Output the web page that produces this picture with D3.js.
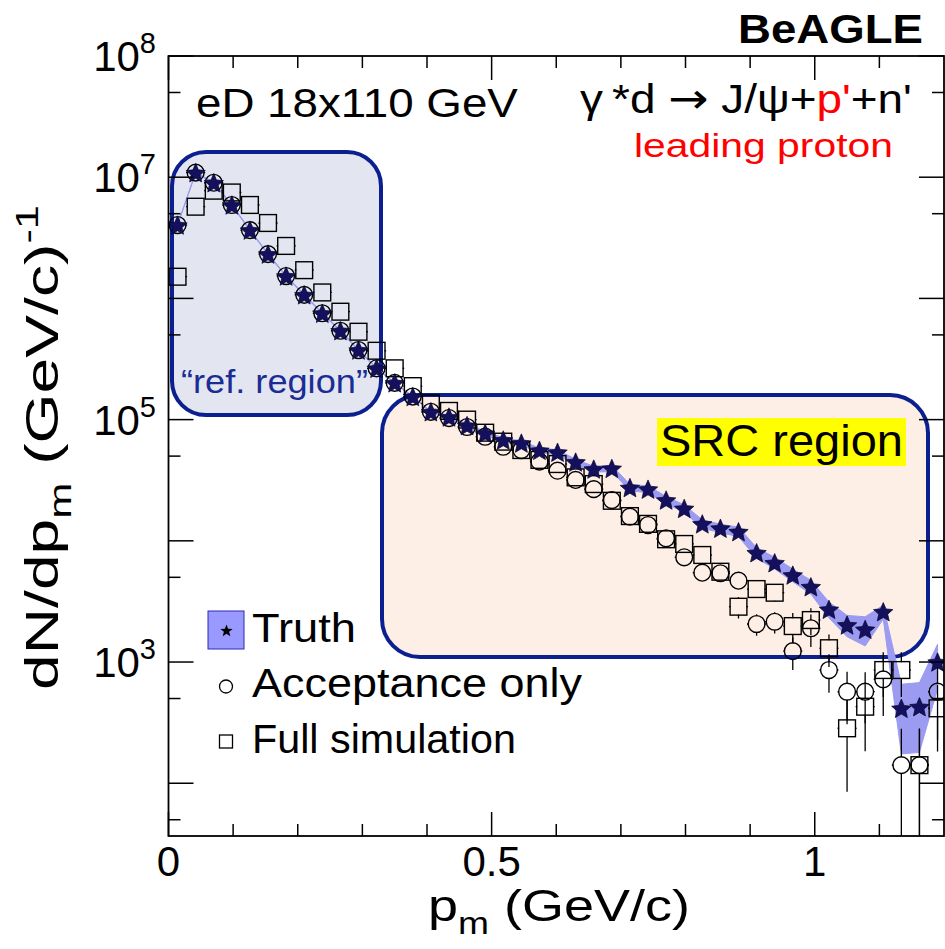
<!DOCTYPE html>
<html><head><meta charset="utf-8">
<script src="https://cdn.jsdelivr.net/npm/d3@7/dist/d3.min.js"></script>
<style>body{margin:0;background:#fff}text{font-family:"Liberation Sans",Arial,Helvetica,sans-serif}</style>
</head><body>
<svg id="c" width="945" height="949"></svg>
<script>
// ---------------- data ----------------
const binCenters = [0.014,0.042,0.070,0.098,0.126,0.154,0.182,0.210,0.238,0.266,0.294,0.322,0.350,0.378,0.406,0.434,0.462,0.490,0.518,0.546,0.574,0.602,0.630,0.658,0.686,0.714,0.742,0.770,0.798,0.826,0.854,0.882,0.910,0.938,0.966,0.994,1.022,1.050,1.078,1.106,1.134,1.162,1.190];
const truthVals = [4.03e6,1.09e7,9.0e6,5.90e6,3.66e6,2.32e6,1.53e6,1.07e6,7.54e5,5.41e5,3.75e5,2.65e5,2.01e5,1.55e5,1.16e5,
  1.05e5,8.93e4,7.71e4,6.79e4,6.41e4,5.58e4,5.38e4,4.47e4,3.91e4,3.96e4,2.75e4,2.67e4,2.17e4,1.85e4,1.38e4,1.27e4,1.19e4,
  7.98e3,6.59e3,5.22e3,4.18e3,2.72e3,2.02e3,1.86e3,2.60e3,415,428,1.00e3];
const truthRelErr = [0.01,0.01,0.01,0.01,0.01,0.01,0.01,0.01,0.01,0.01,0.01,0.01,0.01,0.01,0.01,
  0.03,0.03,0.035,0.04,0.04,0.045,0.05,0.05,0.055,0.06,0.06,0.065,0.07,0.07,0.08,0.08,
  0.09,0.1,0.11,0.12,0.13,0.15,0.2,0.27,0.13,0.58,0.58,0.4];
const acceptVals = [4.03e6,1.09e7,9.0e6,5.90e6,3.66e6,2.32e6,1.53e6,1.07e6,7.54e5,5.41e5,3.75e5,2.65e5,2.01e5,1.55e5,1.16e5,
  1.03e5,8.69e4,7.23e4,5.97e4,5.61e4,4.50e4,3.79e4,3.18e4,2.67e4,2.17e4,1.58e4,1.35e4,1.05e4,7.31e3,5.46e3,5.40e3,4.69e3,
  2.06e3,2.15e3,1.23e3,1.90e3,859,569,569,719,141,141,569];
const acceptRelErr = [0.003,0.003,0.003,0.003,0.003,0.003,0.003,0.003,0.003,0.003,0.005,0.005,0.005,0.005,0.005,0.005,
  0.01,0.01,0.01,0.01,0.01,0.01,0.02,0.02,0.025,0.03,0.035,0.04,
  0.06,0.08,0.08,0.1,0.2,0.2,0.3,0.3,0.35,0.46,0.45,0.5,1.0,1.0,0.6];
const fullVals = [1.51e6,5.71e6,7.74e6,7.48e6,5.90e6,4.19e6,2.71e6,1.71e6,1.12e6,7.77e5,
  5.31e5,3.70e5,2.65e5,1.89e5,1.36e5,1.18e5,1.00e5,7.80e4,6.58e4,5.61e4,
  4.65e4,4.30e4,3.34e4,2.94e4,2.14e4,1.60e4,1.38e4,1.03e4,9.42e3,7.64e3,
  5.56e3,2.86e3,4.00e3,3.73e3,1.98e3,2.22e3,1.30e3,284,428,859,859,141,415];
const fullRelErr = [0.003,0.003,0.003,0.003,0.003,0.003,0.003,0.003,0.003,0.003,0.005,0.005,0.005,0.005,0.005,0.005,
  0.01,0.01,0.01,0.01,0.01,0.01,0.02,0.02,0.025,0.03,0.035,0.04,
  0.07,0.08,0.1,0.2,0.15,0.15,0.28,0.25,0.3,0.7,0.57,0.4,0.4,1.0,0.56];
const xMajorTicks = [0,0.5,1];
const xMinorTicks = [0.1,0.2,0.3,0.4,0.6,0.7,0.8,0.9,1.1];
const yMajorTicks = [1e2,1e3,1e4,1e5,1e6,1e7,1e8];
const yMinorTicks = [50,5e2,5e3,5e4,5e5,5e6,5e7];
const yLabelExp = [3,5,7,8];
const xLabels = [{v:0,t:"0"},{v:0.5,t:"0.5"},{v:1,t:"1"}];
const legendNames = ["Truth","Acceptance only","Full simulation"];

// ---------------- layout ----------------
const svg = d3.select("#c");
const L=168.5, R=944, T=56, B=836;
const x = d3.scaleLinear().domain([0,1.2]).range([L,R]);
const y = d3.scaleLog().domain([36.7,1e8]).range([B,T]);
const NAVY="#0b1f8f";
const MS = 8.4; // marker half size

// region boxes
svg.append("rect").attr("x",172).attr("y",152).attr("width",209).attr("height",263)
  .attr("rx",34).attr("fill","#e3e5f1").attr("stroke",NAVY).attr("stroke-width",4);
svg.append("rect").attr("x",382).attr("y",395).attr("width",546).attr("height",262)
  .attr("rx",38).attr("fill","#fdeee6").attr("stroke",NAVY).attr("stroke-width",4);

// clip
svg.append("clipPath").attr("id","clip").append("rect").attr("x",L).attr("y",T).attr("width",R-L).attr("height",B-T);
const plot = svg.append("g").attr("clip-path","url(#clip)");

// truth band
const bandData = binCenters.map((c,i)=>({c, v:truthVals[i], r:truthRelErr[i]}));
plot.append("path").datum(bandData)
  .attr("d", d3.area().x(d=>x(d.c)).y0(d=>y(d.v*(1-d.r))).y1(d=>y(d.v*(1+d.r))))
  .attr("fill","#9b9bf2").attr("stroke","#9b9bf2").attr("stroke-width",1);

// error bars helper
function errBars(vals, errs, half){
  const g = plot.append("g").attr("stroke","#000").attr("stroke-width",1.3);
  vals.forEach((v,i)=>{
    const cx = x(binCenters[i]), cy = y(v);
    const yh = y(v*(1+errs[i]));
    const yl = (1-errs[i])>0.001 ? y(v*(1-errs[i])) : B+5;
    if (cy-half > yh) g.append("line").attr("x1",cx).attr("x2",cx).attr("y1",yh).attr("y2",cy-half);
    if (yl > cy+half) g.append("line").attr("x1",cx).attr("x2",cx).attr("y1",cy+half).attr("y2",yl);
    const hw = x(binCenters[i]+0.014)-cx;
    g.append("line").attr("x1",cx-hw-0.5).attr("x2",cx-half).attr("y1",cy).attr("y2",cy);
    g.append("line").attr("x1",cx+half).attr("x2",cx+hw+0.5).attr("y1",cy).attr("y2",cy);
  });
}
errBars(acceptVals, acceptRelErr, MS-0.5);
errBars(fullVals, fullRelErr, MS-0.5);

// circles (acceptance)
plot.append("g").selectAll("circle").data(acceptVals).join("circle")
  .attr("cx",(d,i)=>x(binCenters[i])).attr("cy",d=>y(d)).attr("r",MS)
  .attr("fill","none").attr("stroke","#000").attr("stroke-width",1.4);
// squares (full simulation)
plot.append("g").selectAll("rect").data(fullVals).join("rect")
  .attr("x",(d,i)=>x(binCenters[i])-MS).attr("y",d=>y(d)-MS).attr("width",2*MS).attr("height",2*MS)
  .attr("fill","none").attr("stroke","#000").attr("stroke-width",1.4);
// stars (truth)
function starPath(R0, ratio){
  const pts=[]; const r0=R0*ratio;
  for(let k=0;k<10;k++){const a=-Math.PI/2+k*Math.PI/5; const rr=k%2?r0:R0; pts.push([rr*Math.cos(a), rr*Math.sin(a)]);}
  return "M"+pts.map(p=>p[0].toFixed(2)+","+p[1].toFixed(2)).join("L")+"Z";
}
plot.append("g").selectAll("path").data(truthVals).join("path")
  .attr("transform",(d,i)=>`translate(${x(binCenters[i])},${y(d)+1})`)
  .attr("d",starPath(10.2,0.46)).attr("fill","#14105e").attr("stroke","#05052a").attr("stroke-width",0.7);

// frame and ticks
const ax = svg.append("g").attr("stroke","#000").attr("stroke-width",1.5);
ax.append("rect").attr("x",L).attr("y",T).attr("width",R-L).attr("height",B-T).attr("fill","none").attr("stroke-width",1.8);
xMajorTicks.forEach(v=>{ax.append("line").attr("x1",x(v)).attr("x2",x(v)).attr("y1",B).attr("y2",B-24);
  ax.append("line").attr("x1",x(v)).attr("x2",x(v)).attr("y1",T).attr("y2",T+24);});
xMinorTicks.forEach(v=>{ax.append("line").attr("x1",x(v)).attr("x2",x(v)).attr("y1",B).attr("y2",B-12);
  ax.append("line").attr("x1",x(v)).attr("x2",x(v)).attr("y1",T).attr("y2",T+12);});
yMajorTicks.forEach(v=>{ax.append("line").attr("x1",L).attr("x2",L+25).attr("y1",y(v)).attr("y2",y(v));
  ax.append("line").attr("x1",R).attr("x2",R-25).attr("y1",y(v)).attr("y2",y(v));});
yMinorTicks.forEach(v=>{ax.append("line").attr("x1",L).attr("x2",L+12).attr("y1",y(v)).attr("y2",y(v));
  ax.append("line").attr("x1",R).attr("x2",R-12).attr("y1",y(v)).attr("y2",y(v));});

// tick labels
xLabels.forEach(d=>{svg.append("text").attr("x",x(d.v)).attr("y",876).attr("text-anchor","middle")
  .attr("font-size",42).text(d.t);});
yLabelExp.forEach(e=>{
  const t = svg.append("text").attr("x",156).attr("y",y(Math.pow(10,e))+15).attr("text-anchor","end").attr("font-size",42);
  t.append("tspan").text("10");
  t.append("tspan").attr("font-size",29).attr("dy",-18).text(e);
});

// generic fitted text: left edge x0, right edge x1, baseline yb
function fittedText(x0, x1, yb, size, build, opts={}){
  const g = svg.append("g");
  const t = g.append("text").attr("font-size",size);
  if(opts.bold) t.attr("font-weight","bold");
  if(opts.fill) t.attr("fill",opts.fill);
  build(t);
  const s = (x1-x0)/t.node().getComputedTextLength();
  g.attr("transform",`translate(${x0},${yb}) scale(${s},1)`);
  return g;
}

// axis titles
fittedText(428,690,921,45,t=>{t.append("tspan").text("p");
  t.append("tspan").attr("font-size",31).attr("dy",13).text("m");
  t.append("tspan").attr("dy",-13).text(" (GeV/c)");});
{
  const g = svg.append("g");
  const t = g.append("text").attr("font-size",46);
  t.append("tspan").text("dN/dp");
  t.append("tspan").attr("font-size",31).attr("dy",13).text("m");
  t.append("tspan").attr("dy",-13).text(" (GeV/c)");
  t.append("tspan").attr("font-size",31).attr("dy",-20).text("-1");
  const s = (690-205)/t.node().getComputedTextLength();
  g.attr("transform",`translate(58,690) rotate(-90) scale(${s},1)`);
}

// headers
fittedText(738,923,43,40,t=>t.text("BeAGLE"),{bold:true});
fittedText(196,518,117,40,t=>t.text("eD 18x110 GeV"));
fittedText(580,912,113,40,t=>{
  t.append("tspan").text("γ\u2009*d\u00A0");
  t.append("tspan").attr("font-family","DejaVu Sans").attr("font-size",42).text("\u2192");
  t.append("tspan").text("\u00A0J/ψ+");
  t.append("tspan").attr("fill","#ff0000").text("p'");
  t.append("tspan").text("+n'");});
fittedText(634,893,157,34,t=>t.text("leading proton"),{fill:"#ff0000"});
fittedText(181,368,393,34,t=>t.text("\u201Cref. region\u201D"),{fill:"#1a2d95"});
svg.append("rect").attr("x",657).attr("y",418).attr("width",249).attr("height",48).attr("fill","#ffff00");
fittedText(660,903,456,44,t=>t.text("SRC region"));

// legend
svg.append("rect").attr("x",208).attr("y",611).attr("width",36).attr("height",38)
  .attr("fill","#9999ff").attr("stroke","#2a2ab8").attr("stroke-width",1);
svg.append("path").attr("transform","translate(226.5,631)").attr("d",starPath(6.5,0.42)).attr("fill","#000");
svg.append("circle").attr("cx",226).attr("cy",686.5).attr("r",6.5).attr("fill","none").attr("stroke","#000").attr("stroke-width",1.3);
svg.append("rect").attr("x",219.5).attr("y",735).attr("width",13).attr("height",13).attr("fill","none").attr("stroke","#000").attr("stroke-width",1.3);
const legBase = [641.7, 696.7, 753.3];
const legRight = [356, 582, 516];
legendNames.forEach((n,i)=>fittedText(252,legRight[i],legBase[i],40,t=>t.text(n)));
</script>
</body></html>
